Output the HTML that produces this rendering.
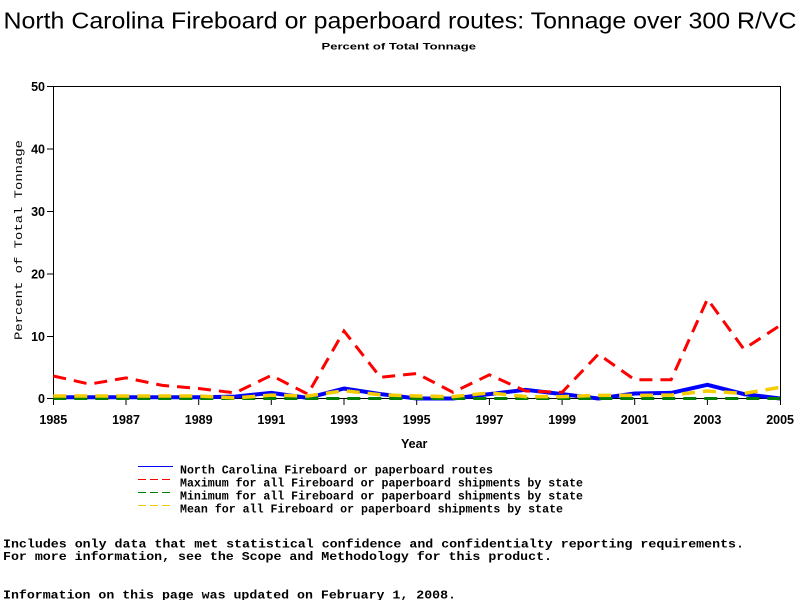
<!DOCTYPE html>
<html><head><meta charset="utf-8"><style>
html,body{margin:0;padding:0;background:#fff;}
svg{display:block;}
</style></head><body>
<svg width="800" height="600" viewBox="0 0 800 600" xmlns="http://www.w3.org/2000/svg">
<rect width="800" height="600" fill="#fff"/>
<text x="3.5" y="28.5" font-family="Liberation Sans, sans-serif" font-size="23.5" textLength="793" lengthAdjust="spacingAndGlyphs" fill="#000">North Carolina Fireboard or paperboard routes: Tonnage over 300 R/VC</text>
<text x="321.5" y="49.5" font-family="Liberation Sans, sans-serif" font-size="9.5" font-weight="bold" textLength="154.5" lengthAdjust="spacingAndGlyphs" fill="#000">Percent of Total Tonnage</text>

<!-- frame -->
<rect x="53.5" y="86.5" width="727" height="312" fill="none" stroke="#000" stroke-width="1"/>
<g stroke="#000" stroke-width="1">
<line x1="47" y1="86.5" x2="53.5" y2="86.5"/>
<line x1="47" y1="149" x2="53.5" y2="149"/>
<line x1="47" y1="211.5" x2="53.5" y2="211.5"/>
<line x1="47" y1="274" x2="53.5" y2="274"/>
<line x1="47" y1="336.5" x2="53.5" y2="336.5"/>
<line x1="47" y1="398.5" x2="53.5" y2="398.5"/>
<line x1="53.5" y1="398.5" x2="53.5" y2="405"/>
<line x1="126" y1="398.5" x2="126" y2="405"/>
<line x1="198.7" y1="398.5" x2="198.7" y2="405"/>
<line x1="271.3" y1="398.5" x2="271.3" y2="405"/>
<line x1="344" y1="398.5" x2="344" y2="405"/>
<line x1="416.7" y1="398.5" x2="416.7" y2="405"/>
<line x1="489.4" y1="398.5" x2="489.4" y2="405"/>
<line x1="562.1" y1="398.5" x2="562.1" y2="405"/>
<line x1="634.7" y1="398.5" x2="634.7" y2="405"/>
<line x1="707.4" y1="398.5" x2="707.4" y2="405"/>
<line x1="780.5" y1="398.5" x2="780.5" y2="405"/>
</g>

<g font-family="Liberation Sans, sans-serif" font-size="12.5" font-weight="bold" fill="#000" text-anchor="end">
<text x="45" y="91">50</text>
<text x="45" y="153.5">40</text>
<text x="45" y="216">30</text>
<text x="45" y="278.5">20</text>
<text x="45" y="341">10</text>
<text x="45" y="403">0</text>
</g>
<g font-family="Liberation Sans, sans-serif" font-size="12.5" font-weight="bold" fill="#000" text-anchor="middle">
<text x="53.3" y="424">1985</text>
<text x="126" y="424">1987</text>
<text x="198.7" y="424">1989</text>
<text x="271.3" y="424">1991</text>
<text x="344" y="424">1993</text>
<text x="416.7" y="424">1995</text>
<text x="489.4" y="424">1997</text>
<text x="562.1" y="424">1999</text>
<text x="634.7" y="424">2001</text>
<text x="707.4" y="424">2003</text>
<text x="780.1" y="424">2005</text>
</g>
<text x="401" y="448" font-family="Liberation Sans, sans-serif" font-size="12.5" font-weight="bold" fill="#000">Year</text>
<text transform="translate(22,340) rotate(-90)" x="0" y="0" font-family="Liberation Mono, monospace" font-size="11" textLength="200" lengthAdjust="spacingAndGlyphs" fill="#000">Percent of Total Tonnage</text>

<!-- series -->
<polyline fill="none" stroke="#0000ff" stroke-width="4" stroke-linejoin="round" points="53.3,397.3 89.6,397.3 126,397.3 162.3,397.3 198.7,397.3 235,396.6 271.3,392.9 307.7,397.9 344,388.5 380.4,394.1 416.7,398.5 453,398.5 489.4,394.1 525.7,389.8 562.1,394.1 598.4,398.5 634.7,393.5 671.1,392.9 707.4,384.8 743.8,394.1 780.1,398.5"/>
<polyline fill="none" stroke="#ff0000" stroke-width="3" stroke-dasharray="13 8" points="53.3,376 89.6,384.1 126,377.9 162.3,385.4 198.7,388.5 235,392.9 271.3,375.4 307.7,394.1 344,331 380.4,377.3 416.7,373.5 453,392.3 489.4,374.8 525.7,391 562.1,392.3 598.4,354.1 634.7,379.8 671.1,379.8 707.4,299.1 743.8,349.1 780.1,325.4"/>
<polyline fill="none" stroke="#008000" stroke-width="3" stroke-dasharray="13 8" points="53.3,398.5 780.1,398.5"/>
<polyline fill="none" stroke="#f5cc00" stroke-width="3.5" stroke-dasharray="13 8" points="53.3,396 89.6,396 126,396 162.3,396 198.7,396 235,397.9 271.3,395.1 307.7,396 344,390.7 380.4,394.8 416.7,396 453,396.6 489.4,392.9 525.7,396.6 562.1,396.6 598.4,395.4 634.7,395.4 671.1,395.1 707.4,391 743.8,393.5 780.1,387.3"/>

<!-- legend -->
<line x1="138" y1="466.5" x2="173" y2="466.5" stroke="#0000ff" stroke-width="1"/>
<line x1="138" y1="479.5" x2="173" y2="479.5" stroke="#ff0000" stroke-width="1" stroke-dasharray="8 4"/>
<line x1="138" y1="492.5" x2="173" y2="492.5" stroke="#008000" stroke-width="1" stroke-dasharray="8 4"/>
<line x1="138" y1="505.5" x2="173" y2="505.5" stroke="#f5cc00" stroke-width="1" stroke-dasharray="8 4"/>
<g font-family="Liberation Mono, monospace" font-size="11.6" font-weight="bold" fill="#000">
<text x="180" y="473.5" textLength="313" lengthAdjust="spacingAndGlyphs">North Carolina Fireboard or paperboard routes</text>
<text x="180" y="486.5" textLength="403" lengthAdjust="spacingAndGlyphs">Maximum for all Fireboard or paperboard shipments by state</text>
<text x="180" y="499.5" textLength="403" lengthAdjust="spacingAndGlyphs">Minimum for all Fireboard or paperboard shipments by state</text>
<text x="180" y="512.5" textLength="383" lengthAdjust="spacingAndGlyphs">Mean for all Fireboard or paperboard shipments by state</text>
</g>

<g font-family="Liberation Mono, monospace" font-size="12" font-weight="bold" fill="#000">
<text x="3" y="547.3" textLength="741" lengthAdjust="spacingAndGlyphs">Includes only data that met statistical confidence and confidentialty reporting requirements.</text>
<text x="3" y="560" textLength="549" lengthAdjust="spacingAndGlyphs">For more information, see the Scope and Methodology for this product.</text>
<text x="3" y="598.5" textLength="453" lengthAdjust="spacingAndGlyphs">Information on this page was updated on February 1, 2008.</text>
</g>
</svg>
</body></html>
